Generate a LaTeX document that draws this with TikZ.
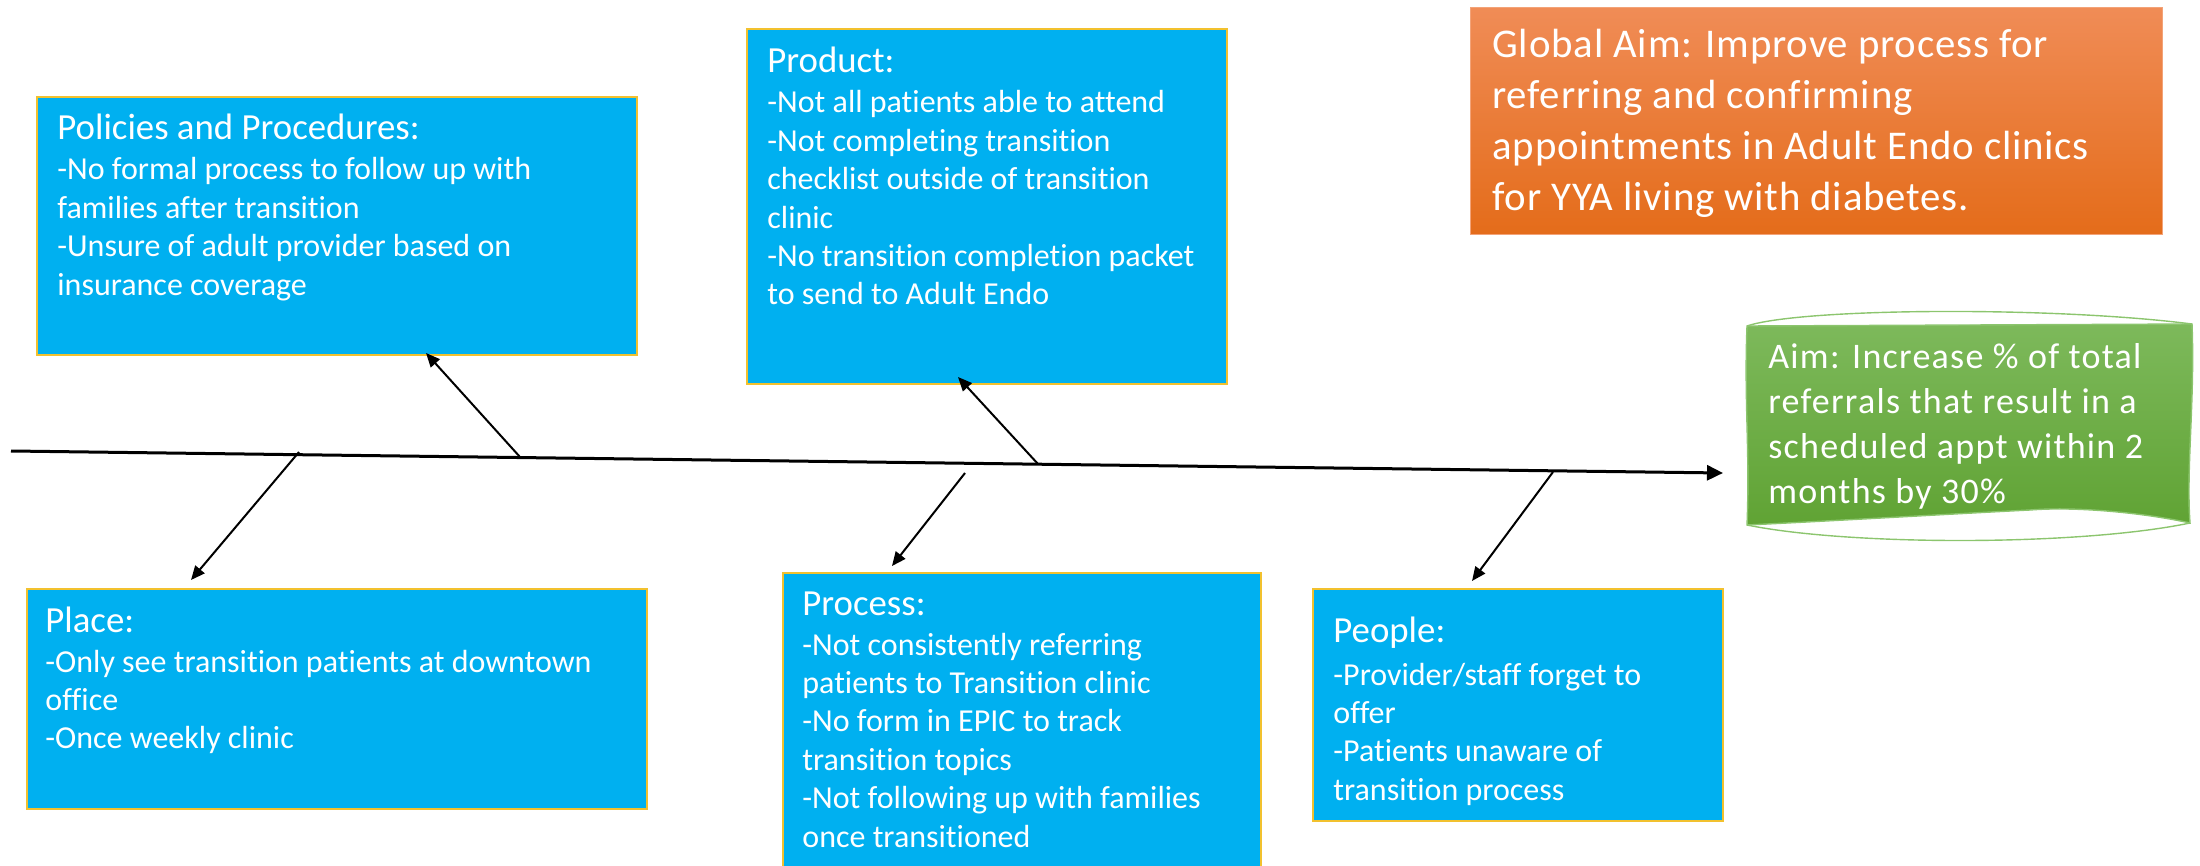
\documentclass[tikz,border=0pt]{standalone}
\usepackage{fontspec}
\setmainfont{Carlito}[Ligatures=NoCommon]
\usetikzlibrary{arrows.meta,fit}
\definecolor{boxblue}{HTML}{00B0F0}
\definecolor{boxgold}{HTML}{F2C12E}
\definecolor{orTop}{HTML}{F08C56}
\definecolor{orBot}{HTML}{E46C1A}
\definecolor{grTop}{HTML}{7DB95B}
\definecolor{grBot}{HTML}{60A334}
\definecolor{grLine}{HTML}{8CC56E}
\newcommand\bodyfont{\fontsize{16pt}{19.2pt}\selectfont}
\newcommand\headfont{\fontsize{18.4pt}{19.2pt}\selectfont}
\newcommand\Ln[1]{\hbox{#1}}
\newcommand\fishtext[3]{\vtop{\lineskiplimit=-100pt\headfont\Ln{#1}\vskip#2\bodyfont #3}}
\tikzset{
  bluebox/.style={fill=boxblue, draw=boxgold, line width=0.7pt, inner sep=0pt},
  txt/.style={inner sep=0pt, anchor=base west, text=white},
  spineline/.style={line width=1.5pt, -{Triangle[length=8pt,width=7.5pt]}},
  bonearrow/.style={line width=1pt, -{Triangle[length=7pt,width=6pt]}},
}
\begin{document}
\begin{tikzpicture}[x=0.5pt,y=-0.5pt]
\useasboundingbox (0,0) rectangle (2200,866);

% boxes
\node[bluebox, fit={(37,97) (637,355)}] (policies) {};
\node[bluebox, fit={(747,29) (1227,384)}] (product) {};
\node[bluebox, fit={(27,589) (647,809)}] (place) {};
\node[bluebox, fit={(783,573) (1261,880)}] (process) {};
\node[bluebox, fit={(1313,589) (1723,821)}] (people) {};
\node[fit={(1470,8) (2162,235)}, inner sep=0pt, top color=orTop, bottom color=orBot, draw=orTop!80!white, line width=0.5pt] (globalaim) {};

% green aim shape
\shade[top color=grTop, bottom color=grBot]
  (1747,326) -- (2192,324) .. controls (2195,400) and (2186,470) .. (2190,523)
  .. controls (2150,514) and (2080,506) .. (2030,510)
  .. controls (1950,514) and (1850,520) .. (1747,525)
  .. controls (1750,450) and (1744,400) .. (1747,326) -- cycle;
\draw[grLine, line width=0.7pt]
  (1747,326) -- (2192,324) .. controls (2195,400) and (2186,470) .. (2190,523)
  .. controls (2150,514) and (2080,506) .. (2030,510)
  .. controls (1950,514) and (1850,520) .. (1747,525)
  .. controls (1750,450) and (1744,400) .. (1747,326) -- cycle;
\draw[grLine, line width=0.7pt] (1747,326) .. controls (1800,308) and (2050,306) .. (2192,324);
\draw[grLine, line width=0.7pt] (1747,525) .. controls (1850,546) and (2080,546) .. (2190,523);
\node[fit={(1747,324) (2192,525)}, inner sep=0pt] (aim) {};

% texts
\node[txt] (policiesT) at (57,140) {\fishtext{Policies and Procedures:}{0.8pt}{%
  \Ln{-No formal process to follow up with}\Ln{families after transition}%
  \Ln{-Unsure of adult provider based on}\Ln{insurance coverage}}};
\node[txt] (productT) at (767,73) {\fishtext{Product:}{0.8pt}{%
  \Ln{-Not all patients able to attend}\Ln{-Not completing transition}%
  \Ln{checklist outside of transition}\Ln{clinic}%
  \Ln{-No transition completion packet}\Ln{to send to Adult Endo}}};
\node[txt] (placeT) at (45,632) {\fishtext{Place:}{0.8pt}{%
  \Ln{-Only see transition patients at downtown}\Ln{office}%
  \Ln{-Once weekly clinic}}};
\node[txt] (processT) at (802,615) {\fishtext{Process:}{0.8pt}{%
  \Ln{-Not consistently referring}\Ln{patients to Transition clinic}%
  \Ln{-No form in EPIC to track}\Ln{transition topics}%
  \Ln{-Not following up with families}\Ln{once transitioned}}};
\node[txt] (peopleT) at (1333,642) {\fishtext{People:}{2.3pt}{%
  \Ln{-Provider/staff forget to}\Ln{offer}%
  \Ln{-Patients unaware of}\Ln{transition process}}};
\node[txt] (globalT) at (1492,58) {\vtop{\lineskiplimit=-100pt\fontsize{20.4pt}{25.4pt}\selectfont\addfontfeatures{LetterSpace=2}%
  \Ln{Global Aim: Improve process for}\Ln{referring and confirming}%
  \Ln{appointments in Adult Endo clinics}\Ln{for YYA living with diabetes.}}};
\node[txt] (aimT) at (1768,368) {\vtop{\lineskiplimit=-100pt\fontsize{18pt}{22.6pt}\selectfont\addfontfeatures{LetterSpace=3.5}%
  \Ln{Aim: Increase \% of total}\Ln{referrals that result in a}%
  \Ln{scheduled appt within 2}\Ln{months by 30\%}}};

% spine and bones
\coordinate (spineStart) at (11,451);
\coordinate (spineEnd) at (1723,473);
\draw[spineline] (spineStart) -- (spineEnd);

\coordinate (bPol) at (520,457);
\coordinate (tPol) at (426,353);
\coordinate (bProd) at (1038,464);
\coordinate (tProd) at (958,377);
\coordinate (bPlace) at (299,452);
\coordinate (tPlace) at (191,580);
\coordinate (bProc) at (965,473);
\coordinate (tProc) at (892,566);
\coordinate (bPeople) at (1553,472);
\coordinate (tPeople) at (1472,581);
\draw[bonearrow] (bPol) -- (tPol);
\draw[bonearrow] (bProd) -- (tProd);
\draw[bonearrow] (bPlace) -- (tPlace);
\draw[bonearrow] (bProc) -- (tProc);
\draw[bonearrow] (bPeople) -- (tPeople);
\end{tikzpicture}
\end{document}
